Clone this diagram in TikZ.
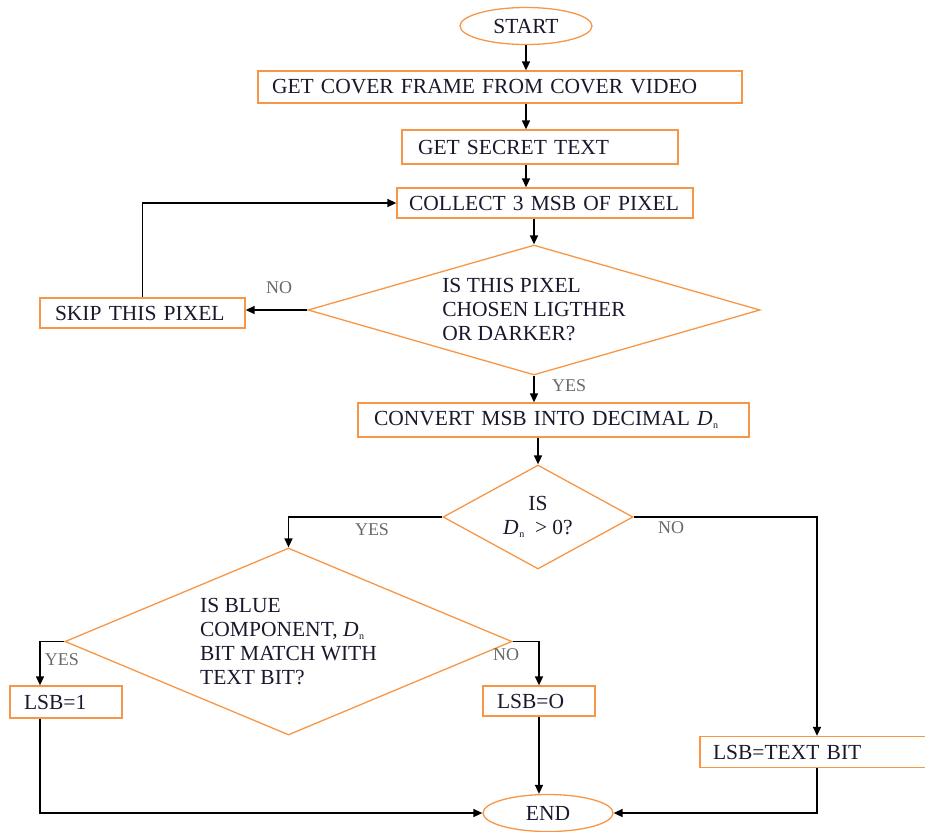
\documentclass[tikz,border=0pt]{standalone}
\usepackage{fontspec}
\setmainfont{Liberation Serif}
\usetikzlibrary{shapes.geometric,arrows.meta}
\definecolor{edgeorange}{RGB}{247,150,70}
\definecolor{labelgray}{RGB}{105,105,105}
\definecolor{inkblue}{RGB}{25,25,45}
% italic D with a small lowered n
\newcommand{\dnsym}{\textit{D}\kern0.5pt\raisebox{-3pt}{\fontsize{10}{10}\selectfont n}}
\begin{document}
\begin{tikzpicture}[x=1pt,y=-1pt,
  font=\fontsize{21.5}{24}\selectfont,
  shape border/.style={draw=edgeorange,line width=1.3pt,text=inkblue},
  stepbox/.style={shape border,rectangle,inner ysep=0pt,align=left},
  decision/.style={shape border,diamond,inner sep=0pt,align=left},
  terminal/.style={shape border,ellipse,inner sep=0pt},
  flow/.style={draw=black,line width=1.5pt,-{Triangle[length=9pt,width=8pt]}},
  branch/.style={text=labelgray,font=\fontsize{18}{20}\selectfont,inner sep=0pt}]

\useasboundingbox (0,0) rectangle (925,831);

% process steps
\node[terminal,minimum width=132pt,minimum height=37pt] (start) at (526,26) {START};
\node[stepbox,minimum width=484pt,minimum height=32pt,inner xsep=14pt,text width=456pt] (cover) at (500,87) {GET COVER FRAME FROM COVER VIDEO};
\node[stepbox,minimum width=276pt,minimum height=34pt,inner xsep=16pt,text width=244pt] (secret) at (540,147) {GET SECRET TEXT};
\node[stepbox,minimum width=296pt,minimum height=30pt,inner xsep=12pt,text width=272pt] (collect) at (545,203) {COLLECT 3 MSB OF PIXEL};
\node[decision,aspect=3.48,minimum width=452pt,minimum height=130pt] (chosen) at (534,310) {IS THIS PIXEL\\CHOSEN LIGTHER\\OR DARKER?};
\node[stepbox,minimum width=205pt,minimum height=30pt,inner xsep=15pt,text width=175pt] (skip) at (142.5,313) {SKIP THIS PIXEL};
\node[stepbox,minimum width=391pt,minimum height=34pt,inner xsep=16pt,text width=359pt] (convert) at (553.5,420) {CONVERT MSB INTO DECIMAL \dnsym};
\node[decision,aspect=1.83,minimum width=190pt,minimum height=104pt,align=center] (positive) at (538,517) {IS\\\dnsym\ \ > 0?};
\node[decision,aspect=2.39,minimum width=447pt,minimum height=187pt] (blue) at (288.5,641.5) {IS BLUE\\COMPONENT, \dnsym\\BIT MATCH WITH\\TEXT BIT?};
\node[stepbox,minimum width=112pt,minimum height=32pt,inner xsep=14pt,text width=84pt] (one) at (66,702) {LSB=1};
\node[stepbox,minimum width=112pt,minimum height=30pt,inner xsep=14pt,text width=84pt] (zero) at (539,701) {LSB=O};
\node[stepbox,minimum width=226pt,minimum height=31pt,inner xsep=13pt,text width=200pt] (textbit) at (813,752) {LSB=TEXT BIT};
\node[terminal,minimum width=130pt,minimum height=37pt] (finish) at (548,813) {END};

% columns used by the bent connectors
\coordinate (yescol) at (40,0);
\coordinate (nocol) at (817,0);

% branch labels
\node[branch] (noskip) at (279,288) {NO};
\node[branch] (yespix) at (569,385.5) {YES};
\node[branch] (yespos) at (372,530) {YES};
\node[branch] (nopos) at (671,528) {NO};
\node[branch] (yesbit) at (62,660) {YES};
\node[branch] (nobit) at (506,655) {NO};

% connectors
\draw[flow] (start.south) -- (cover.north -| start.south);
\draw[flow] (cover.south -| start.south) -- (secret.north -| start.south);
\draw[flow] (secret.south -| start.south) -- (collect.north -| start.south);
\draw[flow] (collect.south -| chosen.north) -- (chosen.north);
\draw[flow] (chosen.west) -- (chosen.west -| skip.east);
\draw[flow] (skip.north) |- (collect.west);
\draw[flow] (chosen.south) -- (chosen.south |- convert.north);
\draw[flow] (convert.south -| positive.north) -- (positive.north);
\draw[flow] (positive.west) -| (blue.north);
\draw[flow] (positive.east) -| (textbit.north -| nocol);
\draw[flow] (blue.west) -| (one.north -| yescol);
\draw[flow] (blue.east) -| (zero.north);
\draw[flow] (one.south -| yescol) |- (finish.west);
\draw[flow] (zero.south) -- (zero.south |- finish.north);
\draw[flow] (textbit.south -| nocol) |- (finish.east);
\end{tikzpicture}
\end{document}
